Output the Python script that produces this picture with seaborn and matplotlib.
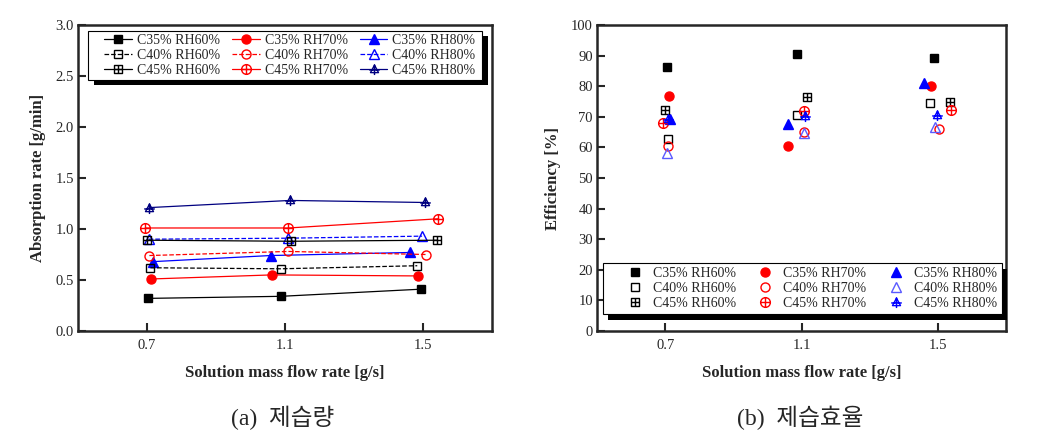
import numpy as np
import pandas as pd
import matplotlib
matplotlib.use('Agg')
import matplotlib.pyplot as plt
import seaborn as sns
from matplotlib.path import Path
from matplotlib.markers import MarkerStyle
from matplotlib.patches import Rectangle

# Series labels (row order of the legend)
series_labels = ['C35% RH60%', 'C35% RH70%', 'C35% RH80%',
                 'C40% RH60%', 'C40% RH70%', 'C40% RH80%',
                 'C45% RH60%', 'C45% RH70%', 'C45% RH80%']

x_ticks = [0.7, 1.1, 1.5]

# (a) absorption rate [g/min], x positions as plotted (points are slightly offset)
absorption_x = [[0.704, 1.088, 1.494],
                [0.711, 1.062, 1.485],
                [0.717, 1.059, 1.463],
                [0.710, 1.088, 1.484],
                [0.707, 1.110, 1.510],
                [0.705, 1.110, 1.498],
                [0.699, 1.118, 1.541],
                [0.695, 1.110, 1.544],
                [0.707, 1.115, 1.506]]
absorption_y = [[0.32, 0.34, 0.41],
                [0.51, 0.55, 0.54],
                [0.68, 0.74, 0.77],
                [0.62, 0.61, 0.64],
                [0.74, 0.78, 0.75],
                [0.90, 0.91, 0.93],
                [0.89, 0.88, 0.89],
                [1.01, 1.01, 1.10],
                [1.21, 1.28, 1.26]]

# (b) efficiency [%]
efficiency_x = [[0.704, 1.087, 1.490],
                [0.710, 1.060, 1.480],
                [0.714, 1.059, 1.458],
                [0.709, 1.086, 1.478],
                [0.707, 1.108, 1.504],
                [0.705, 1.108, 1.491],
                [0.698, 1.115, 1.536],
                [0.695, 1.107, 1.538],
                [0.709, 1.111, 1.498]]
efficiency_y = [[86.2, 90.4, 89.1],
                [76.7, 60.5, 80.2],
                [69.2, 67.7, 80.9],
                [62.8, 70.5, 74.4],
                [60.5, 65.0, 66.0],
                [58.3, 64.6, 66.8],
                [72.2, 76.4, 74.7],
                [68.1, 71.8, 72.3],
                [69.3, 70.4, 70.6]]


# custom "marker with a cross" shapes
def cross_path(ext=1.0):
    return Path([(-ext, 0), (ext, 0), (0, -ext), (0, ext)],
                [Path.MOVETO, Path.LINETO, Path.MOVETO, Path.LINETO])


sq = Path([(-1, -1), (1, -1), (1, 1), (-1, 1), (-1, -1)],
          [Path.MOVETO, Path.LINETO, Path.LINETO, Path.LINETO, Path.CLOSEPOLY])
square_plus = MarkerStyle(Path.make_compound_path(sq, cross_path()))
circle_plus = MarkerStyle(Path.make_compound_path(Path.unit_circle(), cross_path()))
tri = Path([(0, 1), (-0.9, -0.7), (0.9, -0.7), (0, 1)],
           [Path.MOVETO, Path.LINETO, Path.LINETO, Path.CLOSEPOLY])
tri_cross = Path([(-1.2, -0.1), (1.2, -0.1), (0, 1.1), (0, -1.25)],
                 [Path.MOVETO, Path.LINETO, Path.MOVETO, Path.LINETO])
triangle_plus = MarkerStyle(Path.make_compound_path(tri, tri_cross))

blk, red, blu, navy = 'black', '#ff0000', '#0000ff', '#000080'
styles_a = [
    dict(color=blk, marker='s', mfc=blk, ls='-'),
    dict(color=red, marker='o', mfc=red, ls='-'),
    dict(color=blu, marker='^', mfc=blu, ls='-'),
    dict(color=blk, marker='s', mfc='none', ls='--'),
    dict(color=red, marker='o', mfc='none', ls='--'),
    dict(color=blu, marker='^', mfc='none', ls='--'),
    dict(color=blk, marker=square_plus, mfc='none', ls='-'),
    dict(color=red, marker=circle_plus, mfc='none', ls='-'),
    dict(color=navy, marker=triangle_plus, mfc='none', ls='-'),
]
sizes = [6, 6.5, 7, 6, 6.5, 7, 6.2, 7, 8]

sns.set_style('ticks')
plt.rcParams['font.family'] = ['Liberation Serif', 'Noto Sans CJK KR']

fig = plt.figure(figsize=(10.5, 4.4), dpi=100)
ax1 = fig.add_axes([0.0743, 0.2477, 0.394, 0.6955])
ax2 = fig.add_axes([0.5686, 0.2477, 0.3895, 0.6955])

for i, lab in enumerate(series_labels):
    st = styles_a[i]
    df = pd.DataFrame({'x': absorption_x[i], 'y': absorption_y[i]})
    sns.lineplot(data=df, x='x', y='y', ax=ax1, estimator=None, sort=False,
                 color=st['color'], linestyle=st['ls'], lw=0.9,
                 marker=st['marker'], markersize=sizes[i],
                 markerfacecolor=st['mfc'], markeredgecolor=st['color'],
                 markeredgewidth=1.0, label=lab)

    col2 = st['color'] if i != 8 else blu
    if i == 5:
        col2 = '#5a5aff'
    df2 = pd.DataFrame({'x': efficiency_x[i], 'y': efficiency_y[i]})
    sns.lineplot(data=df2, x='x', y='y', ax=ax2, estimator=None, sort=False,
                 color=col2, linestyle='none',
                 marker=st['marker'], markersize=sizes[i],
                 markerfacecolor=st['mfc'] if st['mfc'] == 'none' else col2,
                 markeredgecolor=col2, markeredgewidth=1.0, label=lab)

for ax in (ax1, ax2):
    ax.set_xlim(0.5, 1.7)
    ax.set_xticks(x_ticks)
    ax.set_xticklabels(['0.7', '1.1', '1.5'])
    ax.tick_params(direction='in', length=6, width=1.5, labelsize=10.5, pad=6)
    for s in ax.spines.values():
        s.set_linewidth(1.8)
        s.set_visible(True)
    ax.set_xlabel('Solution mass flow rate [g/s]', fontsize=12, fontweight='bold', labelpad=9)

ax1.set_ylim(0, 3.0)
ax1.set_yticks(np.arange(0, 3.01, 0.5))
ax1.set_yticklabels([f'{v:.1f}' for v in np.arange(0, 3.01, 0.5)])
ax1.set_ylabel('Absorption rate [g/min]', fontsize=12, fontweight='bold', labelpad=7)
ax1.tick_params(axis='y', pad=3)

ax2.set_ylim(0, 100)
ax2.set_yticks(range(0, 101, 10))
ax2.set_ylabel('Efficiency [%]', fontsize=12, fontweight='bold', labelpad=7)
ax2.tick_params(axis='y', pad=3)


def column_major(handles):
    order = [0, 3, 6, 1, 4, 7, 2, 5, 8]
    return [handles[k] for k in order]


def legend_box(ax, x0, y0, w, h, dx, dy):
    # black offset shadow + white framed box, in axes fraction
    ax.add_patch(Rectangle((x0 + dx, y0 - dy), w, h, transform=ax.transAxes,
                           facecolor='black', edgecolor='none', zorder=4, clip_on=False))
    ax.add_patch(Rectangle((x0, y0), w, h, transform=ax.transAxes,
                           facecolor='white', edgecolor='black', lw=0.8,
                           zorder=4.5, clip_on=False))


legend_box(ax1, 0.024, 0.820, 0.952, 0.160, 6 / 414, 5 / 306)
h1 = column_major(ax1.get_lines()[:9])
ax1.legend(handles=h1, labels=[h.get_label() for h in h1], ncol=3,
           loc='center left', bbox_to_anchor=(0.064, 0.900),
           fontsize=10, frameon=False, handlelength=2.0,
           handletextpad=0.35, columnspacing=0.85, labelspacing=0.15,
           borderpad=0, borderaxespad=0)

legend_box(ax2, 0.0147, 0.0556, 0.9753, 0.1664, 5 / 409, 6 / 306)
h2 = column_major(ax2.get_lines()[:9])
ax2.legend(handles=h2, labels=[h.get_label() for h in h2], ncol=3,
           loc='center left', bbox_to_anchor=(0.0758, 0.139),
           fontsize=10, frameon=False, handlelength=1.0,
           handletextpad=0.8, columnspacing=1.6, labelspacing=0.15,
           borderpad=0, borderaxespad=0)

fig.text(0.2695, 0.050, '(a)  제습량', fontsize=17, ha='center', va='center')
fig.text(0.7620, 0.050, '(b)  제습효율', fontsize=17, ha='center', va='center')

fig.savefig('out.png', dpi=100)
